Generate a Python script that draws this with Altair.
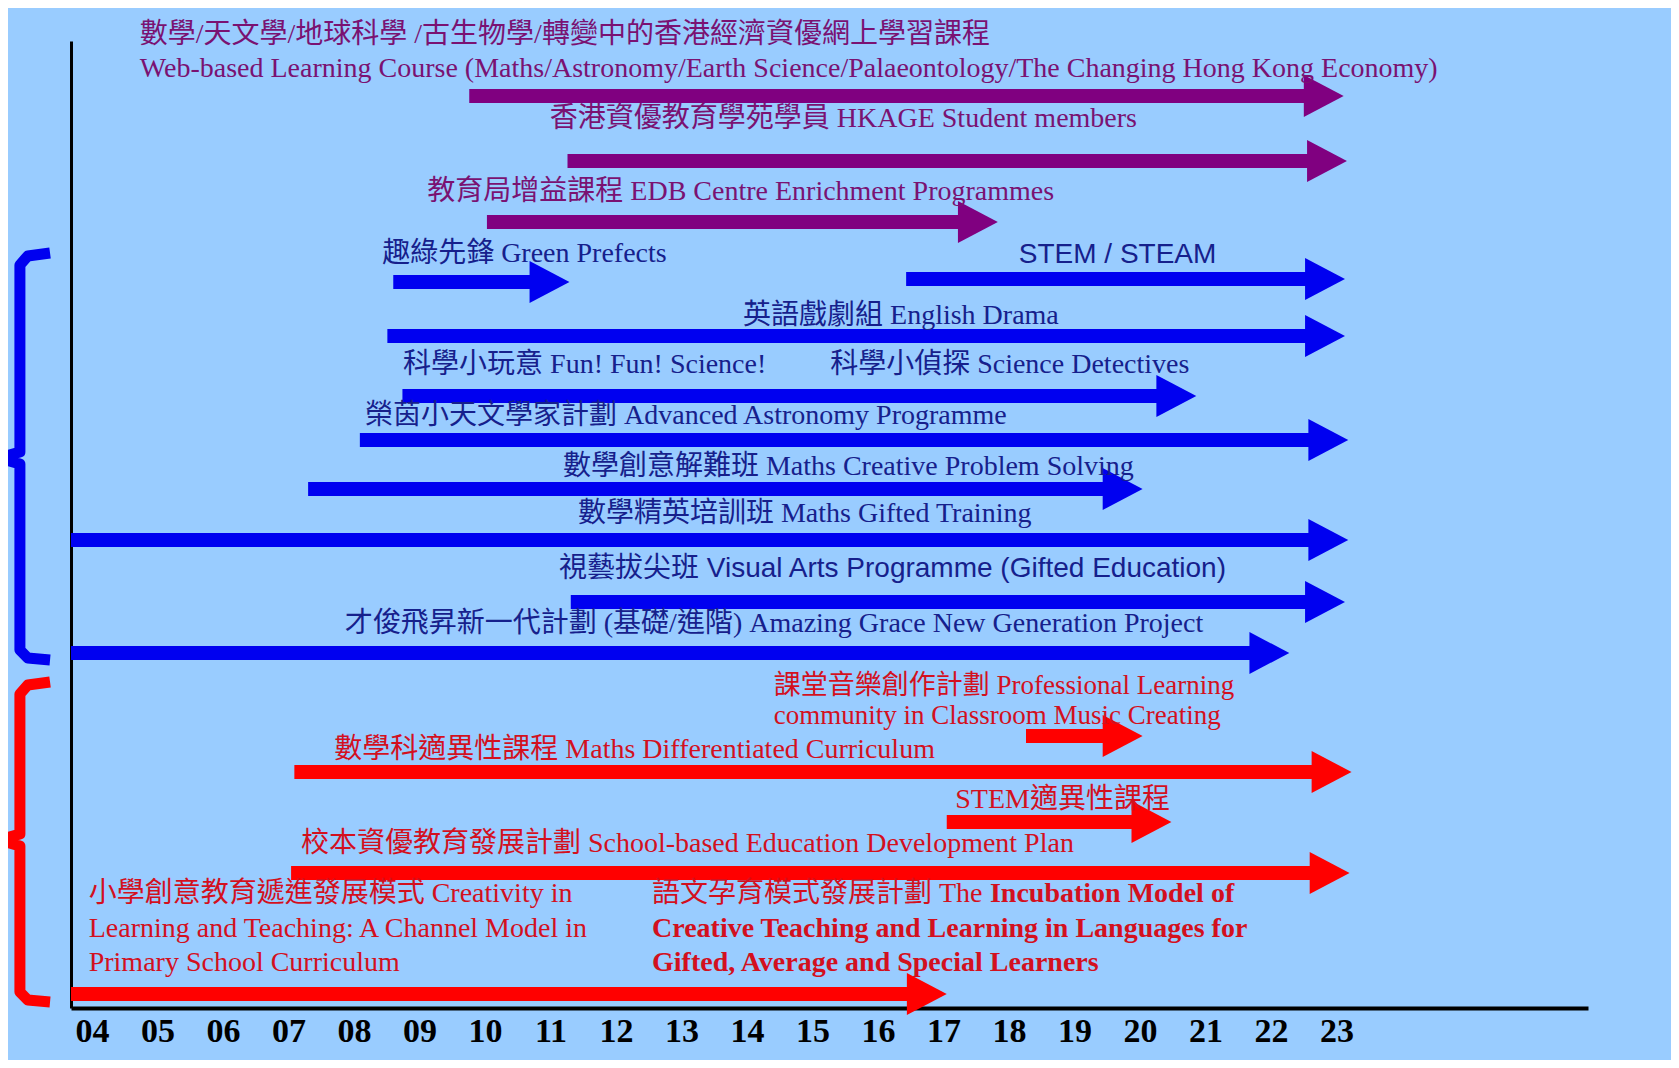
import altair as alt
import pandas as pd

# ---------------- data ----------------
years = list(range(4, 24))

arrow_group = ["purple", "purple", "purple",
               "blue", "blue", "blue", "blue", "blue", "blue", "blue", "blue", "blue",
               "red", "red", "red", "red", "red"]
arrow_start = [9.76, 11.26, 10.03, 8.60, 16.43, 8.51, 8.74, 8.09, 7.30, 3.68, 11.31, 3.68,
               18.26, 7.09, 17.05, 7.04, 3.68]
arrow_end = [23.11, 23.16, 17.83, 11.29, 23.13, 23.13, 20.86, 23.18, 20.04, 23.18, 23.13, 22.28,
             20.04, 23.23, 20.48, 23.20, 17.05]
arrow_row = [91.2, 84.7, 78.6, 72.6, 72.9, 67.2, 61.2, 56.8, 51.9, 46.8, 40.6, 35.5,
             27.2, 23.6, 18.6, 13.5, 1.4]

label_text = [
    "數學/天文學/地球科學 /古生物學/轉變中的香港經濟資優網上學習課程",
    "Web-based Learning Course (Maths/Astronomy/Earth Science/Palaeontology/The Changing Hong Kong Economy)",
    "香港資優教育學苑學員 HKAGE Student members",
    "教育局增益課程 EDB Centre Enrichment Programmes",
    "趣綠先鋒 Green Prefects",
    "STEM / STEAM",
    "英語戲劇組 English Drama",
    "科學小玩意 Fun! Fun! Science!",
    "科學小偵探 Science Detectives",
    "榮茵小天文學家計劃 Advanced Astronomy Programme",
    "數學創意解難班 Maths Creative Problem Solving",
    "數學精英培訓班 Maths Gifted Training",
    "視藝拔尖班 Visual Arts Programme (Gifted Education)",
    "才俊飛昇新一代計劃 (基礎/進階) Amazing Grace New Generation Project",
    "課堂音樂創作計劃 Professional Learning",
    "community in Classroom Music Creating",
    "數學科適異性課程 Maths Differentiated Curriculum",
    "STEM適異性課程",
    "校本資優教育發展計劃 School-based Education Development Plan",
    "小學創意教育遞進發展模式 Creativity in",
    "Learning and Teaching: A Channel Model in",
    "Primary School Curriculum",
    "語文孕育模式發展計劃 The",
    "Incubation Model of",
    "Creative Teaching and Learning in Languages for",
    "Gifted, Average and Special Learners",
]
label_x = [4.73, 4.73, 10.99, 9.12, 8.43, 18.15, 13.94, 8.75, 15.27, 8.17, 11.19, 11.42, 11.13,
           7.86, 14.41, 14.41, 7.70, 17.18, 7.19, 3.95, 3.95, 3.95, 12.55, 17.71, 12.55, 12.55]
label_row = [97.3, 93.9, 88.9, 81.6, 75.4, 75.3, 69.2, 64.3, 64.3, 59.2, 54.1, 49.4, 43.9,
             38.4, 32.2, 29.2, 25.8, 20.8, 16.4, 11.4, 7.9, 4.5, 11.4, 11.4, 7.9, 4.5]
label_size = [28, 28, 28, 28, 28, 28, 28, 28, 28, 28, 28, 28, 28,
              28, 27, 27, 28, 28, 28, 28, 28, 28, 28, 28, 28, 28]
label_group = ["purple", "purple", "purple", "purple",
               "blue", "blue", "blue", "blue", "blue", "blue", "blue", "blue", "blue", "blue",
               "red", "red", "red", "red", "red", "red", "red", "red", "red", "red", "red", "red"]
label_style = ["serif", "serif", "serif", "serif", "serif", "sans", "serif", "serif", "serif",
               "serif", "serif", "serif", "sans", "serif", "serif", "serif", "serif", "serif",
               "serif", "serif", "serif", "serif", "serif", "bold", "bold", "bold"]

brace_id = ["blue"] * 9 + ["red"] * 9
brace_x = [3.36, 3.02, 2.90, 2.90, 2.58, 2.90, 2.90, 3.02, 3.36,
           3.36, 3.02, 2.90, 2.90, 2.58, 2.90, 2.90, 3.02, 3.36]
brace_y = [75.5, 75.2, 74.3, 55.6, 55.0, 54.4, 35.8, 35.0, 34.8,
           32.6, 32.3, 31.4, 17.4, 16.8, 16.2, 1.6, 0.8, 0.6]

arrow_colors = {"purple": "#800080", "blue": "#0000F0", "red": "#FF0000"}
text_colors = {"purple": "#7A1272", "blue": "#16208C", "red": "#D3101E"}

SERIF = "Liberation Serif, Noto Sans CJK TC"
SANS = "Liberation Sans, Noto Sans CJK TC"

# ---------------- frames ----------------
arrows = pd.DataFrame({"start": arrow_start, "end": arrow_end, "row": arrow_row,
                       "color": [arrow_colors[g] for g in arrow_group]})
labels = pd.DataFrame({"text": label_text, "x": label_x, "row": label_row,
                       "style": label_style, "size": label_size,
                       "color": [text_colors[g] for g in label_group]})
braces = pd.DataFrame({"id": brace_id, "x": brace_x, "row": brace_y,
                       "order": list(range(len(brace_x))),
                       "color": [arrow_colors[b] for b in brace_id]})

xscale = alt.Scale(domain=[3.68, 26.84], nice=False, zero=False)
yscale = alt.Scale(domain=[0, 96.7], nice=False, zero=False)
xaxis = alt.Axis(values=years, format="02d", title=None, ticks=False, tickSize=0, grid=False,
                 domainColor="black", domainWidth=4, labelFont="Liberation Serif",
                 labelFontWeight="bold", labelFontSize=34, labelColor="black",
                 labelPadding=6, labelFlush=False, labelOverlap=False)
yaxis = alt.Axis(labels=False, ticks=False, tickSize=0, grid=False, title=None,
                 domainColor="black", domainWidth=3)


def X(f):
    return alt.X(f, type="quantitative", scale=xscale, axis=xaxis)


def Y(f):
    return alt.Y(f, type="quantitative", scale=yscale, axis=yaxis)


col = alt.Color("color:N", scale=None)
fsize = alt.Size("size:Q", scale=None)

brace_layer = alt.Chart(braces).mark_line(strokeWidth=11, strokeJoin="round",
                                          strokeCap="butt").encode(
    x=X("x"), y=Y("row"), order="order:Q", detail="id:N", color=col)

shaft_layer = alt.Chart(arrows).mark_rule(strokeWidth=14, strokeCap="butt",
                                          x2Offset=-20).encode(
    x=X("start"), x2="end:Q", y=Y("row"), color=col)

head_layer = alt.Chart(arrows).mark_point(shape="M -1.9 -1 L 0 0 L -1.9 1 Z", size=1764,
                                          filled=True, opacity=1, strokeWidth=0).encode(
    x=X("end"), y=Y("row"), color=col)

text_base = alt.Chart(labels)
serif_layer = text_base.mark_text(align="left", baseline="middle", font=SERIF).encode(
    x=X("x"), y=Y("row"), text="text:N", color=col, size=fsize).transform_filter(
    alt.datum.style == "serif")
bold_layer = text_base.mark_text(align="left", baseline="middle", font=SERIF,
                                 fontWeight="bold").encode(
    x=X("x"), y=Y("row"), text="text:N", color=col, size=fsize).transform_filter(
    alt.datum.style == "bold")
sans_layer = text_base.mark_text(align="left", baseline="middle", font=SANS).encode(
    x=X("x"), y=Y("row"), text="text:N", color=col, size=fsize).transform_filter(
    alt.datum.style == "sans")

chart = alt.layer(brace_layer, shaft_layer, head_layer, serif_layer, bold_layer,
                  sans_layer).properties(
    width=1517, height=967,
    padding={"left": 63, "top": 33, "right": 83, "bottom": 52},
    autosize=alt.AutoSizeParams(type="none"),
    background="#99CCFF",
).configure_view(strokeWidth=0)

chart.save("out.html", embed_options={"renderer": "svg", "actions": False})
